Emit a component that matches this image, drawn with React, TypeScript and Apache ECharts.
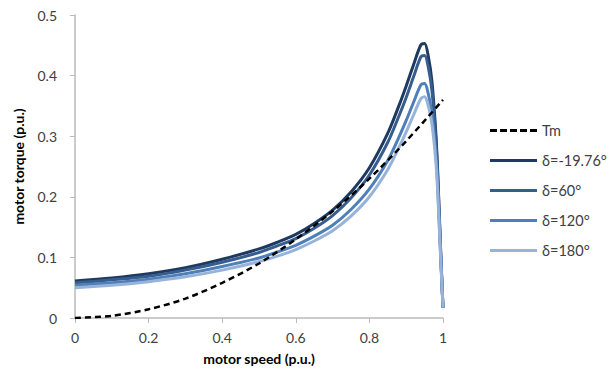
import React, { useEffect, useRef } from "react";
import * as echarts from "echarts";

// motor speed (p.u.) sample points for the torque curves
const speed = [0, 0.1, 0.2, 0.3, 0.4, 0.5, 0.55, 0.6, 0.65, 0.7, 0.75, 0.8, 0.85, 0.88, 0.9, 0.92, 0.94, 0.95, 0.96, 0.97, 0.98, 0.985, 0.99, 0.995, 1.0];

// motor torque (p.u.) for each load angle
const tDeltaM1976 = [0.061, 0.066, 0.073, 0.083, 0.097, 0.114, 0.125, 0.138, 0.156, 0.178, 0.208, 0.248, 0.305, 0.35, 0.383, 0.418, 0.451, 0.453, 0.432, 0.39, 0.31, 0.25, 0.17, 0.09, 0.017];
const tDelta60 = [0.058, 0.063, 0.069, 0.079, 0.092, 0.108, 0.119, 0.131, 0.148, 0.169, 0.198, 0.236, 0.29, 0.333, 0.364, 0.398, 0.431, 0.433, 0.414, 0.375, 0.3, 0.243, 0.165, 0.088, 0.017];
const tDelta120 = [0.054, 0.058, 0.064, 0.073, 0.085, 0.099, 0.109, 0.12, 0.135, 0.153, 0.179, 0.213, 0.26, 0.298, 0.326, 0.356, 0.385, 0.387, 0.37, 0.337, 0.275, 0.225, 0.155, 0.083, 0.017];
const tDelta180 = [0.05, 0.054, 0.06, 0.068, 0.079, 0.093, 0.102, 0.113, 0.127, 0.144, 0.168, 0.2, 0.245, 0.281, 0.307, 0.335, 0.362, 0.365, 0.35, 0.32, 0.262, 0.215, 0.148, 0.08, 0.017];

// load torque Tm
const tmSpeed = [0, 0.1, 0.2, 0.3, 0.4, 0.5, 0.6, 0.7, 0.8, 0.9, 1.0];
const tmTorque = [0, 0.0036, 0.0144, 0.032, 0.058, 0.09, 0.13, 0.176, 0.23, 0.292, 0.36];

const xTicks = [0, 0.2, 0.4, 0.6, 0.8, 1];
const yTicks = [0, 0.1, 0.2, 0.3, 0.4, 0.5];

const FONT = "Lato, 'Noto Sans', sans-serif";
const TEXT = "#404040";
const AXIS = "#bababa";

// legend glyphs: a solid bar and a dashed bar
const SOLID_ICON = "path://M0,0h47v3h-47z";
const DASH_ICON = "path://M0,0h7v3h-7z M10,0h7v3h-7z M20,0h7v3h-7z M30,0h7v3h-7z M40,0h7v3h-7z";

const pair = (xs: number[], ys: number[]) => xs.map((x, i) => [x, ys[i]]);

const curves = [
  { name: "δ=-19.76°", data: tDeltaM1976, color: "#1f3a60" },
  { name: "δ=60°", data: tDelta60, color: "#375d8e" },
  { name: "δ=120°", data: tDelta120, color: "#4f7fb8" },
  { name: "δ=180°", data: tDelta180, color: "#97b3da" },
];

export default function App() {
  const ref = useRef<HTMLDivElement>(null);

  useEffect(() => {
    if (!ref.current) return;
    const chart = echarts.init(ref.current, null, { renderer: "svg" });

    const series: any[] = curves.map((c, i) => ({
      name: c.name,
      type: "line",
      data: pair(speed, c.data),
      smooth: 0.3,
      showSymbol: false,
      symbol: "none",
      lineStyle: { color: c.color, width: 3 },
      itemStyle: { color: c.color },
      z: 2 + i,
    }));
    series.push({
      name: "Tm",
      type: "line",
      data: pair(tmSpeed, tmTorque),
      smooth: 0.3,
      showSymbol: false,
      symbol: "none",
      lineStyle: { color: "#000", width: 2.5, type: [6, 4] },
      itemStyle: { color: "#000" },
      z: 10,
    });

    chart.setOption({
      animation: false,
      backgroundColor: "#fff",
      textStyle: { fontFamily: FONT },
      grid: { left: 75, right: 173, top: 15, bottom: 56, containLabel: false, outerBoundsMode: "none" },
      legend: {
        orient: "vertical",
        left: 490,
        top: 123,
        padding: 0,
        data: [
          { name: "Tm", icon: DASH_ICON, itemStyle: { color: "#000" } },
          ...curves.map((c) => ({ name: c.name, icon: SOLID_ICON, itemStyle: { color: c.color } })),
        ],
        itemWidth: 47,
        itemHeight: 3,
        itemGap: 15,
        textStyle: { color: TEXT, fontSize: 14.5, fontFamily: FONT },
      },
      xAxis: {
        type: "value",
        min: 0,
        max: 1,
        interval: 0.2,
        name: "motor speed (p.u.)",
        nameLocation: "middle",
        nameGap: 33,
        nameTextStyle: { color: "#000", fontSize: 14, fontWeight: "bold", fontFamily: FONT },
        axisLine: { show: true, lineStyle: { color: AXIS, width: 1.5 } },
        axisTick: { show: true, length: 5, lineStyle: { color: AXIS } },
        axisLabel: {
          color: TEXT,
          fontSize: 14,
          margin: 12,
          formatter: (v: number) => (xTicks.includes(v) ? String(v) : ""),
        },
        splitLine: { show: false },
      },
      yAxis: {
        type: "value",
        min: 0,
        max: 0.5,
        interval: 0.1,
        name: "motor torque (p.u.)",
        nameLocation: "middle",
        nameRotate: 90,
        nameGap: 50,
        nameTextStyle: { color: "#000", fontSize: 14, fontWeight: "bold", fontFamily: FONT },
        axisLine: { show: true, lineStyle: { color: AXIS, width: 1.5 } },
        axisTick: { show: true, length: 5, lineStyle: { color: AXIS } },
        axisLabel: {
          color: TEXT,
          fontSize: 14,
          margin: 18,
          formatter: (v: number) => (yTicks.some((t) => Math.abs(t - v) < 1e-9) ? String(Math.round(v * 10) / 10) : ""),
        },
        splitLine: { show: false },
      },
      series,
    });

    return () => chart.dispose();
  }, []);

  return <div ref={ref} style={{ width: 616, height: 374, position: "absolute", left: 0, top: 0 }} />;
}
